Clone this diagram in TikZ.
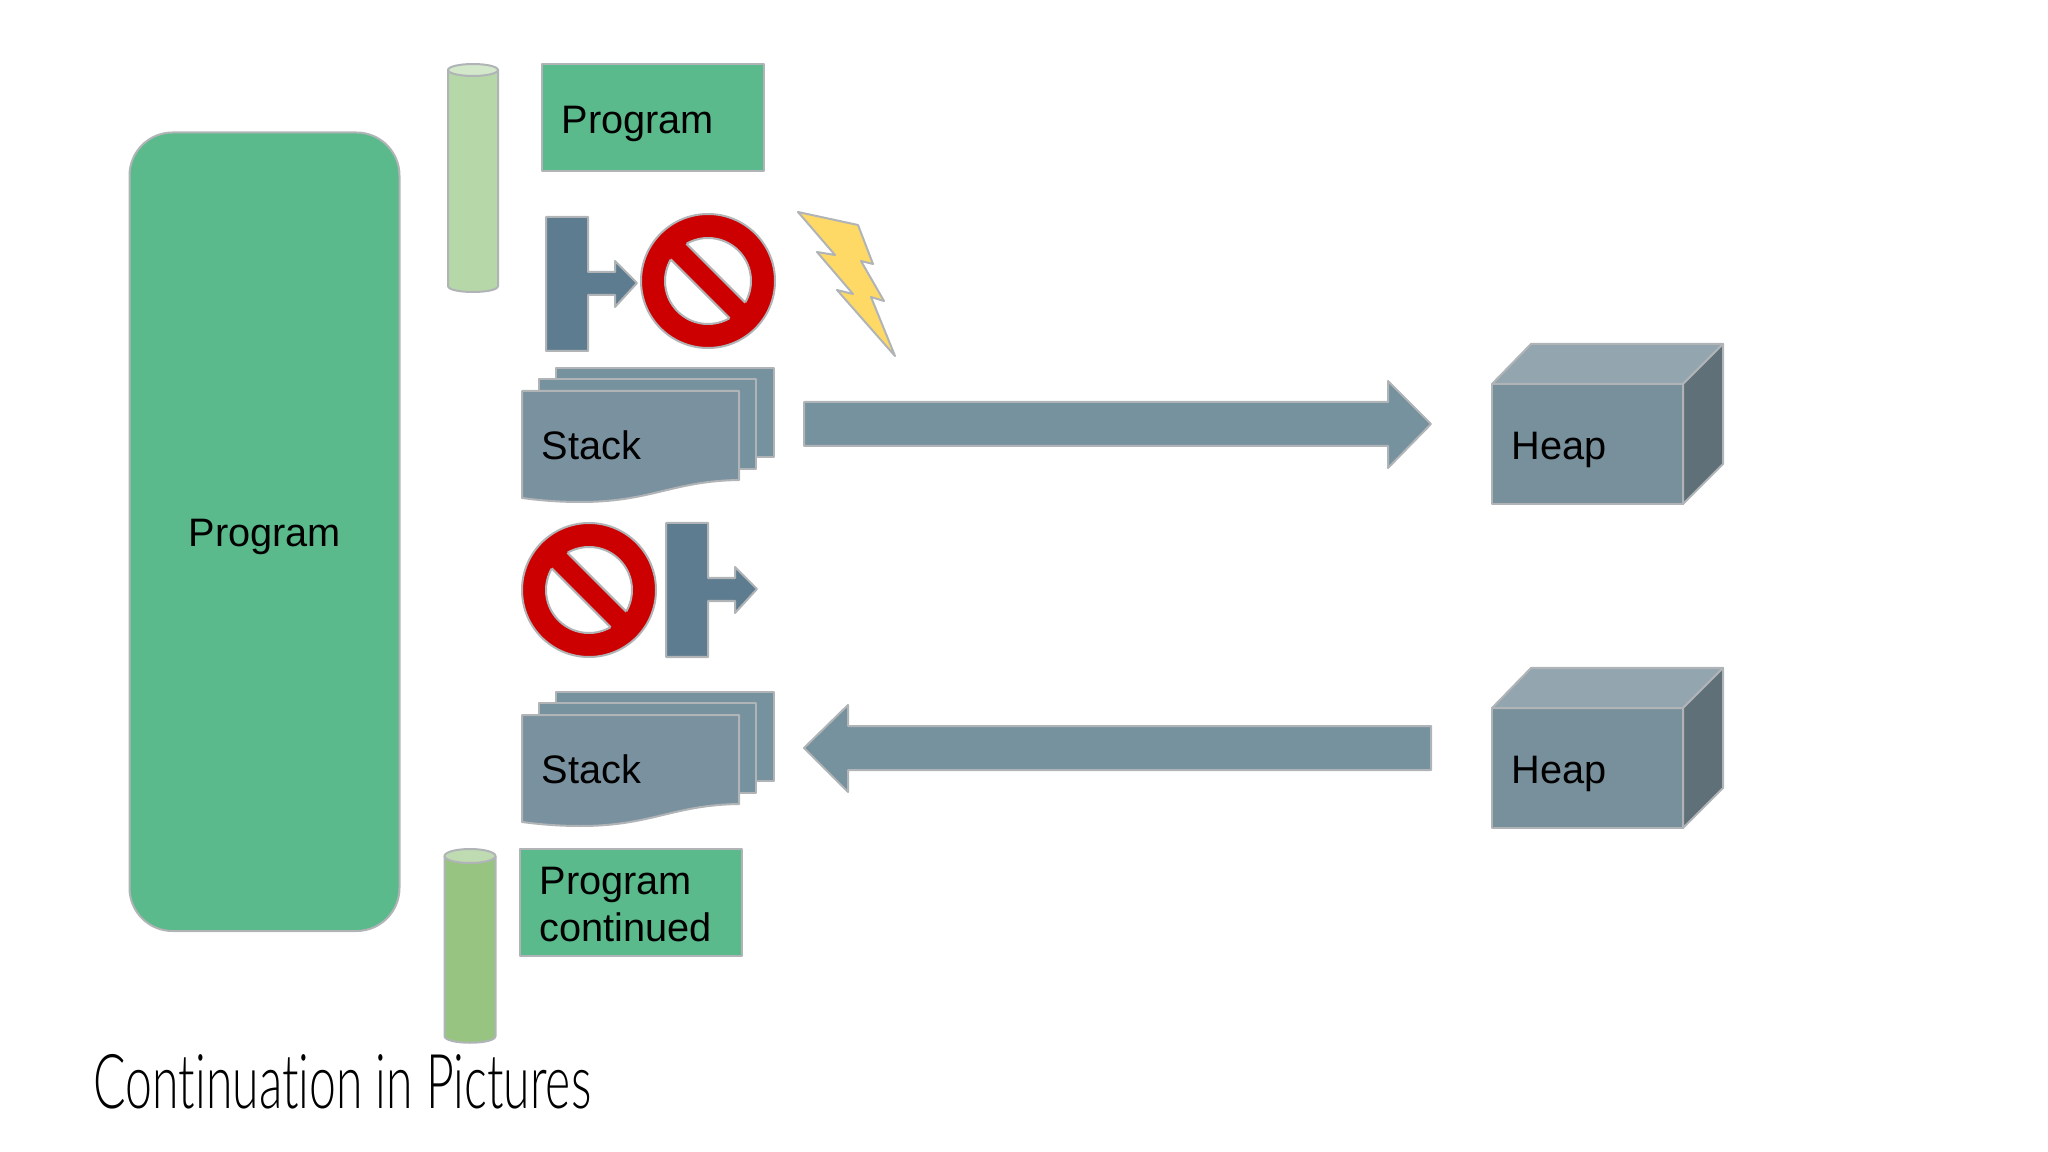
\documentclass[tikz,border=0pt]{standalone}
\usepackage{fontspec}
\setmainfont{Liberation Sans}
\newfontfamily\slidetitle[FakeStretch=0.637, Ligatures=NoCommon]{Lato Light}
\usepackage{tikz}
\usepackage{xcolor}
\definecolor{progreen}{RGB}{91,186,140}
\definecolor{slate}{RGB}{118,146,158}
\definecolor{slatefront}{RGB}{122,145,159}
\definecolor{slatedark}{RGB}{94,124,144}
\definecolor{heapfront}{RGB}{120,144,156}
\definecolor{heaptop}{RGB}{147,166,176}
\definecolor{heapside}{RGB}{96,112,120}
\definecolor{edgegray}{RGB}{176,180,182}
\definecolor{stopred}{RGB}{204,0,0}
\definecolor{boltyellow}{RGB}{255,217,102}
\definecolor{cylpale}{RGB}{182,215,168}
\definecolor{cyltoppale}{RGB}{211,231,203}
\definecolor{cyldeep}{RGB}{151,196,129}
\definecolor{cyltopdeep}{RGB}{190,219,177}

\begin{document}
\begin{tikzpicture}[
  x=0.01cm, y=-0.01cm,
  outlined/.style={draw=edgegray, line width=0.02cm, line join=round},
  progbox/.style={outlined, fill=progreen},
  word/.style={font=\fontsize{11.3pt}{13pt}\selectfont, text=black, inner sep=0pt, anchor=base west},
  tstop/.pic={
    \draw[outlined, fill=slatedark] (0,0) -- (42,0) -- (42,55) -- (69,55) -- (69,44)
      -- (91,66) -- (69,90) -- (69,78) -- (42,78) -- (42,134) -- (0,134) -- cycle;
  },
  nosign/.pic={
    \draw[outlined, fill=stopred] (0,0) circle [radius=67];
    \draw[outlined, fill=white] (0,0) circle [radius=43];
    \fill[stopred] (-25,-41) -- (41,25) -- (25,41) -- (-41,-25) -- cycle;
    \draw[outlined] (-21.6,-37.2) -- (37.2,21.6);
    \draw[outlined] (21.6,37.2) -- (-37.2,-21.6);
  },
  stackpile/.pic={
    \draw[outlined, fill=slate] (34,0) rectangle (252,89);
    \draw[outlined, fill=slate] (17,11) rectangle (234,101);
    \draw[outlined, fill=slatefront] (0,23) -- (217,23) -- (217,112)
      .. controls (150,113) and (130,134) .. (58,134)
      .. controls (35,134) and (15,132) .. (0,130) -- cycle;
    \node[word] (-label) at (19,91.5) {Stack};
  },
  heapbox/.pic={
    \draw[outlined, fill=heapfront] (0,40) rectangle (191,160);
    \draw[outlined, fill=heaptop] (0,40) -- (39,0) -- (231,0) -- (191,40) -- cycle;
    \draw[outlined, fill=heapside] (191,40) -- (231,0) -- (231,120) -- (191,160) -- cycle;
    \node[word] (-label) at (19,115.5) {Heap};
  },
]
  \useasboundingbox (0,0) rectangle (2048,1152);

  % -- Whole program --
  \draw[progbox, rounded corners=0.43cm] (129.5,132.5) rectangle (399.5,931);
  \node[word] (whole) at (188,546.5) {Program};

  % -- Upper part: program so far --
  \draw[outlined, fill=cylpale] (448,70) -- (448,286)
    .. controls (448,294) and (498,294) .. (498,286) -- (498,70);
  \draw[outlined, fill=cyltoppale] (473,70) ellipse [x radius=25, y radius=6];
  \draw[progbox] (542,64) rectangle (764,171);
  \node[word] (first) at (561,134) {Program};

  \pic at (546,217) {tstop};
  \pic at (708,281) {nosign};
  \draw[outlined, fill=boltyellow] (798,212) -- (858,225) -- (873,264) -- (861,261) -- (884,301)
    -- (871,297) -- (895,356) -- (837,290) -- (853,294) -- (817,252) -- (835,255) -- cycle;

  % -- Copy out to the heap --
  \pic (saved) at (522,368) {stackpile};
  \draw[outlined, fill=slate] (804,402) -- (1388,402) -- (1388,381) -- (1431,424) -- (1388,468)
    -- (1388,446) -- (804,446) -- cycle;
  \pic (heapa) at (1492,344) {heapbox};

  % -- Copy back from the heap --
  \pic at (589,590) {nosign};
  \pic at (666,523) {tstop};
  \pic (restored) at (522,692) {stackpile};
  \draw[outlined, fill=slate] (1431,726) -- (848,726) -- (848,705) -- (804,748) -- (848,792)
    -- (848,770) -- (1431,770) -- cycle;
  \pic (heapb) at (1492,668) {heapbox};

  % -- Lower part: program continued --
  \draw[outlined, fill=cyldeep] (444.5,856) -- (444.5,1036)
    .. controls (444.5,1045) and (495.5,1045) .. (495.5,1036) -- (495.5,856);
  \draw[outlined, fill=cyltopdeep] (470,856) ellipse [x radius=25.5, y radius=7];
  \draw[progbox] (520,849) rectangle (742,956);
  \node[word] (second) at (539,894.5) {Program};
  \node[word] (secondb) at (539,941.5) {continued};

  % -- Title --
  \node[font=\slidetitle\fontsize{21.5pt}{26pt}\selectfont, inner sep=0pt, anchor=base west] (title)
    at (93,1108) {Continuation in Pictures};
\end{tikzpicture}
\end{document}
